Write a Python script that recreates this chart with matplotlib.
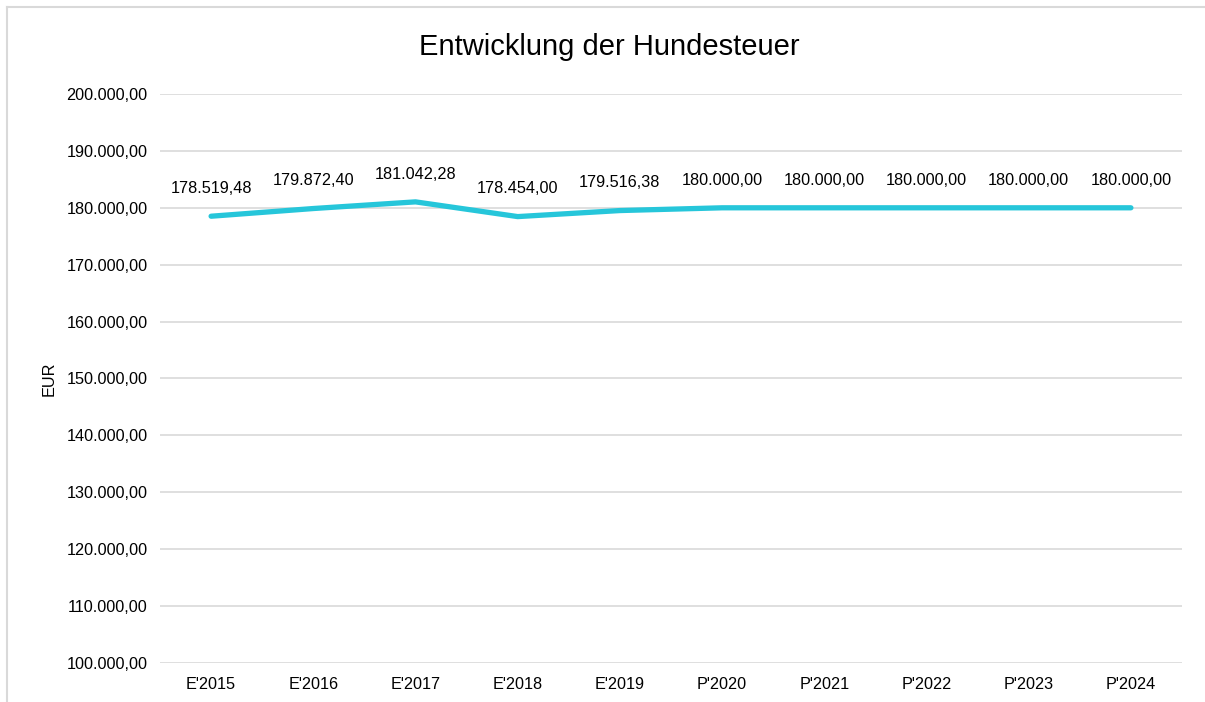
import matplotlib
matplotlib.use("Agg")
import matplotlib.pyplot as plt
from matplotlib.lines import Line2D
from matplotlib.ticker import FuncFormatter

plt.rcParams['font.family'] = ['Liberation Sans', 'DejaVu Sans']

categories = ["E'2015", "E'2016", "E'2017", "E'2018", "E'2019",
              "P'2020", "P'2021", "P'2022", "P'2023", "P'2024"]
values = [178519.48, 179872.40, 181042.28, 178454.00, 179516.38,
          180000.00, 180000.00, 180000.00, 180000.00, 180000.00]


def de_fmt(v, pos=None):
    s = f"{v:,.2f}"
    return s.replace(",", "X").replace(".", ",").replace("X", ".")


fig = plt.figure(figsize=(12.05, 7.02), dpi=100)
bx, by = 7.5 / 1205, 1 - 6.5 / 702
fig.add_artist(Line2D([bx, 1.01], [by, by], transform=fig.transFigure,
                      color='#d9d9d9', linewidth=1.5))
fig.add_artist(Line2D([bx, bx], [-0.01, by], transform=fig.transFigure,
                      color='#d9d9d9', linewidth=1.5))
ax = fig.add_axes([160 / 1205, 1 - 663 / 702, (1182 - 160) / 1205, (663 - 94) / 702])

x = list(range(len(categories)))
ax.plot(x, values, color='#26C6DA', linewidth=3.8, solid_capstyle='round', zorder=3)
for xi, v in zip(x, values):
    ax.annotate(de_fmt(v), (xi, v), xytext=(0, 20), textcoords='offset points',
                ha='center', va='center', fontsize=11.7, color='#000000')

ax.set_xlim(-0.5, len(categories) - 0.5)
ax.set_ylim(100000, 200000)
ax.set_yticks(range(100000, 200001, 10000))
ax.yaxis.set_major_formatter(FuncFormatter(de_fmt))
ax.set_xticks(x)
ax.set_xticklabels(categories)
ax.tick_params(axis='both', length=0, labelsize=11.7, colors='#000000')
ax.tick_params(axis='y', pad=9)
ax.tick_params(axis='x', pad=10)
ax.grid(axis='y', color='#d9d9d9', linewidth=1.2)
ax.set_axisbelow(True)
for s in ax.spines.values():
    s.set_visible(False)
ax.set_ylabel('EUR', fontsize=11.7, labelpad=7)
fig.text(609 / 1205, 1 - 47 / 702, 'Entwicklung der Hundesteuer', ha='center', va='center',
         fontsize=21, color='#000000')

fig.savefig('out.png', dpi=100)
